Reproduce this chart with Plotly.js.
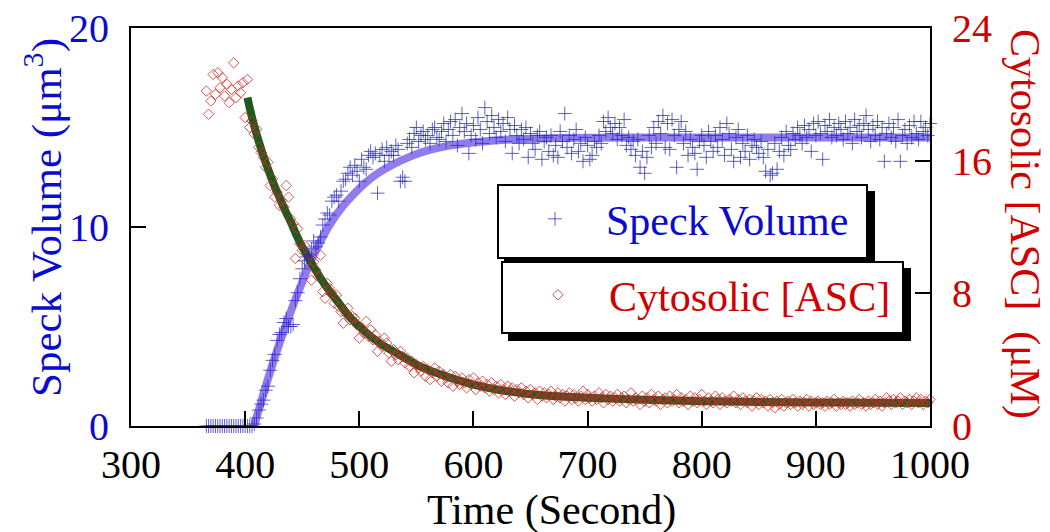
<!DOCTYPE html>
<html>
<head>
<meta charset="utf-8">
<script src="https://cdn.plot.ly/plotly-3.0.1.min.js"></script>
<style>html,body{margin:0;padding:0;background:#fff;}#chart{width:1050px;height:532px;}</style>
</head>
<body>
<div id="chart"></div>
<script>
// ---- data ----
// sampled every 2 s starting at t = 366 s
const sampleStart = 366;
const sampleStep = 2;

const speckVolume = [
  0,0,0,0,0,0,0,0,0,0,
  0,0,0,0,0,0,0,0,0,0,
  0,0.1,0.4,0.8,1.1,1.3,1.8,2.0,2.8,3.3,
  3.6,4.3,4.6,4.7,5.2,5.4,5.0,5.0,5.1,6.3,
  6.7,7.4,7.9,8.3,8.5,8.6,8.9,9.3,9.0,9.2,
  9.5,10.1,10.4,10.7,10.6,11.3,11.5,11.6,11.3,11.8,
  12.3,12.4,12.7,13.0,12.6,13.1,12.8,12.3,13.4,13.0,
  12.9,13.6,13.8,13.5,13.7,11.7,13.6,13.9,13.3,14.0,
  13.6,13.8,13.6,14.1,13.9,12.3,12.5,12.3,14.2,14.4,
  14.0,14.7,15.0,14.3,14.6,14.8,14.4,14.6,14.2,14.9,
  15.0,14.5,14.4,14.8,15.2,14.3,14.9,15.3,14.6,15.4,
  14.1,15.0,15.7,14.8,15.2,13.7,14.6,15.1,14.4,15.5,
  14.9,14.2,16.0,15.3,14.7,15.6,15.0,14.5,15.4,14.8,
  15.2,14.3,15.5,14.9,13.7,15.1,14.6,14.2,14.9,14.4,
  15.0,13.5,14.7,14.2,13.9,14.6,14.8,13.4,14.3,14.5,
  13.8,14.6,13.6,14.1,13.5,14.8,14.3,15.7,14.0,14.6,
  13.7,14.4,14.9,13.8,14.2,13.3,14.5,14.1,13.4,13.6,
  14.3,14.0,14.6,14.2,15.3,14.8,15.5,15.0,14.7,15.2,
  14.4,15.0,14.6,15.4,14.1,14.5,13.9,14.3,13.6,14.4,
  13.0,13.8,12.7,13.5,14.6,14.0,15.0,14.2,15.3,14.7,
  15.6,14.0,15.2,13.9,15.4,14.6,13.0,14.9,15.3,14.2,
  14.8,13.6,14.4,14.0,13.7,12.9,14.3,14.6,14.1,13.5,
  14.8,14.3,13.8,14.6,14.0,15.0,14.4,13.6,15.2,14.7,
  13.9,13.3,14.5,14.9,13.5,14.2,13.8,14.6,13.4,14.1,
  14.4,14.0,13.7,14.3,13.5,12.8,13.9,12.6,12.7,14.2,
  12.9,13.8,14.5,13.6,14.8,14.1,13.9,14.7,14.4,15.0,
  14.6,14.2,15.1,14.5,14.9,13.8,15.2,14.6,15.3,14.7,
  13.4,15.1,14.8,15.4,14.5,15.0,14.6,15.2,14.9,14.4,
  15.3,14.7,15.0,14.2,15.4,14.8,15.1,14.5,15.2,15.6,
  14.9,14.3,15.1,14.6,15.3,14.4,15.0,13.3,14.7,15.2,
  14.5,15.0,14.3,15.4,13.3,14.6,14.9,14.2,15.1,14.5,
  15.3,14.7,14.4,15.3,14.8,15.0,14.6,15.2
];

const cytosolicASC = [
  20.2,18.8,19.6,21.2,20.0,21.3,20.4,21.0,19.9,20.6,
  19.5,20.3,21.9,19.8,20.5,20.1,20.7,18.6,20.9,18.0,
  18.4,17.6,17.9,16.8,16.5,16.2,15.6,15.9,14.5,14.9,
  13.8,14.1,13.3,13.6,13.2,14.5,13.8,12.5,12.2,10.1,
  11.9,11.0,10.6,10.9,9.9,10.3,8.8,9.9,9.4,9.0,
  10.3,8.1,7.7,8.6,8.3,8.0,7.4,7.9,7.2,6.9,
  6.2,6.8,7.1,6.4,6.6,6.5,6.1,5.3,5.9,5.6,
  6.3,5.4,5.8,5.2,5.5,4.5,5.1,4.8,5.3,5.0,
  4.4,3.9,4.6,4.3,4.0,4.5,4.2,3.8,4.1,3.6,
  3.9,3.2,3.7,3.5,3.3,3.6,3.0,3.4,2.8,3.2,
  3.5,3.0,3.3,2.7,3.1,2.9,2.6,3.1,2.4,3.0,
  2.7,2.5,2.9,2.6,2.3,2.8,2.5,2.9,2.2,2.6,
  2.4,2.7,2.3,2.5,2.1,2.6,2.2,2.4,2.0,2.5,
  2.2,1.9,2.4,2.1,2.3,1.8,2.2,2.0,2.3,1.9,
  2.1,1.7,2.2,1.9,2.0,1.6,2.1,1.8,2.0,1.7,
  1.9,2.1,1.6,1.8,2.0,1.7,1.9,1.5,1.8,2.0,
  1.6,1.9,1.7,1.5,1.8,2.1,1.6,1.9,1.7,1.5,
  1.8,1.6,2.0,1.7,1.4,1.9,1.6,1.8,1.5,1.7,
  1.9,1.5,1.7,1.8,1.4,1.6,2.0,1.5,1.7,1.6,
  1.3,1.8,1.5,1.7,1.4,1.9,1.6,1.5,1.8,1.3,
  1.6,1.7,1.4,1.8,1.5,1.6,1.9,1.4,1.7,1.5,
  1.6,1.3,1.8,1.5,1.7,1.4,1.6,1.9,1.5,1.3,
  1.7,1.5,1.4,1.8,1.6,1.3,1.7,1.5,1.4,1.6,
  1.5,1.8,1.4,1.6,1.3,1.7,1.5,1.4,1.6,1.2,
  1.5,1.7,1.3,1.6,1.4,1.5,1.2,1.6,1.4,1.1,
  1.5,1.3,1.6,1.2,1.4,1.5,1.3,1.6,1.4,1.2,
  1.5,1.3,1.4,1.6,1.2,1.5,1.3,1.4,1.5,1.3,
  1.4,1.2,1.5,1.3,1.4,1.6,1.2,1.4,1.3,1.5,
  1.3,1.4,1.2,1.5,1.3,1.4,1.6,1.3,1.4,1.2,
  1.5,1.3,1.4,1.6,1.3,1.5,1.2,1.4,1.7,1.5,
  1.3,1.6,1.4,1.5,1.7,1.3,1.5,1.4,1.6,1.3,
  1.5,1.7,1.4,1.6,1.3,1.5,1.4,1.6
];

// fitted curves
const speckFitTime = [408,410,413,418,424,430,439,446,454,461,468,475,485,495,505,515,530,545,560,580,600,625,650,700,800,900,1000];
const speckFitValue = [0,0.45,1.0,2.0,3.1,4.15,5.6,6.65,7.8,8.7,9.5,10.2,11.0,11.65,12.2,12.65,13.15,13.55,13.85,14.1,14.25,14.37,14.44,14.49,14.5,14.5,14.5];

const ascFitTime = [402,406,410,415,420,425,430,435,440,445,450,455,460,470,480,490,500,510,520,530,540,550,560,580,600,630,660,700,750,800,850,900,950,1000];
const ascFitValue = [19.8,18.6,17.6,16.5,15.5,14.6,13.8,13.0,12.3,11.5,10.8,10.2,9.6,8.5,7.6,6.7,6.0,5.4,4.9,4.5,4.1,3.7,3.4,2.9,2.5,2.1,1.85,1.7,1.58,1.5,1.45,1.42,1.4,1.38];

const xTicks = [300,400,500,600,700,800,900,1000];
const leftTicks = [0,10,20];
const rightTicks = [0,8,16,24];
const seriesNames = ['Speck Volume','Cytosolic [ASC]'];

// ---- styling ----
const FONT = 'Liberation Serif, Times New Roman, serif';
const BLUE = '#0a0ad0';
const RED = '#d00000';

const traces = [
  {x: speckFitTime, y: speckFitValue, type:'scatter', mode:'lines', yaxis:'y',
   line:{color:'rgba(110,80,230,0.75)', width:8, shape:'spline', smoothing:0.6}, showlegend:false, hoverinfo:'skip'},
  {x: ascFitTime, y: ascFitValue, type:'scatter', mode:'lines', yaxis:'y2',
   line:{color:'#1e5a1e', width:8, shape:'spline', smoothing:0.6}, showlegend:false, hoverinfo:'skip'},
  {x0: sampleStart, dx: sampleStep, y: cytosolicASC, type:'scatter', mode:'markers', yaxis:'y2',
   name: seriesNames[1], legend:'legend2', cliponaxis:false,
   marker:{symbol:'diamond-open', size:8, color:'rgba(215,40,40,0.8)', line:{width:1, color:'rgba(215,40,40,0.8)'}}},
  {x0: sampleStart, dx: sampleStep, y: speckVolume, type:'scatter', mode:'markers', yaxis:'y3',
   name: seriesNames[0], legend:'legend', cliponaxis:false,
   marker:{symbol:'cross-thin-open', size:10, color:'rgba(40,40,200,0.75)', line:{width:1, color:'rgba(40,40,200,0.75)'}}}
];

// plot area in pixels
const L = 131, R = 930, T = 28, B = 426;
const W = 1050, H = 532;
const px = v => (v - L) / (R - L);
const py = v => (B - v) / (B - T);

function box(x0, y0, x1, y1, shadow) {
  return [
    {type:'rect', xref:'paper', yref:'paper', layer:'above',
     x0:px(x0+6), x1:px(x1+shadow), y0:py(y0+6), y1:py(y1+shadow),
     fillcolor:'#000', line:{width:0}},
    {type:'rect', xref:'paper', yref:'paper', layer:'above',
     x0:px(x0), x1:px(x1), y0:py(y0), y1:py(y1),
     fillcolor:'#fff', line:{color:'#000', width:2}}
  ];
}

const layout = {
  width: W, height: H,
  margin: {l: L, r: W - R, t: T, b: H - B, pad: 0},
  paper_bgcolor: '#fff', plot_bgcolor: '#fff',
  font: {family: FONT, size: 40, color: '#000'},
  xaxis: {range:[300,1000], tickvals:xTicks, ticks:'inside', ticklen:15, tickwidth:2, tickcolor:'#000',
    showline:true, linewidth:2, linecolor:'#000', mirror:true, showgrid:false, zeroline:false,
    tickfont:{family:FONT, size:40, color:'#000'}, ticklabelstandoff:2},
  yaxis: {range:[0,20], tickvals:leftTicks, ticks:'inside', ticklen:15, tickwidth:2, tickcolor:'#000',
    showline:true, linewidth:2, linecolor:'#000', showgrid:false, zeroline:false,
    tickfont:{family:FONT, size:40, color:BLUE}, ticklabelstandoff:12},
  yaxis2: {range:[0,24], tickvals:rightTicks, overlaying:'y', side:'right', ticks:'inside', ticklen:15, tickwidth:2,
    tickcolor:'#000', showline:true, linewidth:2, linecolor:'#000', showgrid:false, zeroline:false,
    tickfont:{family:FONT, size:40, color:RED}, ticklabelstandoff:12},
  yaxis3: {range:[0,20], overlaying:'y', visible:false},
  shapes: [].concat(box(498,185,867,258,8), box(502,262,903,333,8)),
  legend: {x: px(504), y: py(219), xanchor:'left', yanchor:'middle', bgcolor:'rgba(0,0,0,0)',
    borderwidth:0, itemwidth:92, font:{family:FONT, size:42, color:BLUE}},
  legend2: {x: px(507), y: py(295), xanchor:'left', yanchor:'middle', bgcolor:'rgba(0,0,0,0)',
    borderwidth:0, itemwidth:92, font:{family:FONT, size:42, color:RED}},
  annotations: [
    {text:'Time (Second)', xref:'paper', yref:'paper', x:px(551), y:py(510), xanchor:'center', yanchor:'middle',
     showarrow:false, font:{family:FONT, size:42, color:'#000'}},
    {text:'Speck Volume (μm<sup>3</sup>)', xref:'paper', yref:'paper', x:px(44), y:py(218), textangle:-90,
     xanchor:'center', yanchor:'middle', showarrow:false, font:{family:FONT, size:43, color:BLUE}},
    {text:'Cytosolic [ASC] \u00a0(μM)', xref:'paper', yref:'paper', x:px(1025), y:py(224), textangle:90,
     xanchor:'center', yanchor:'middle', showarrow:false, font:{family:FONT, size:42, color:RED}}
  ]
};

Plotly.newPlot('chart', traces, layout, {staticPlot:true, displayModeBar:false});
</script>
</body>
</html>
